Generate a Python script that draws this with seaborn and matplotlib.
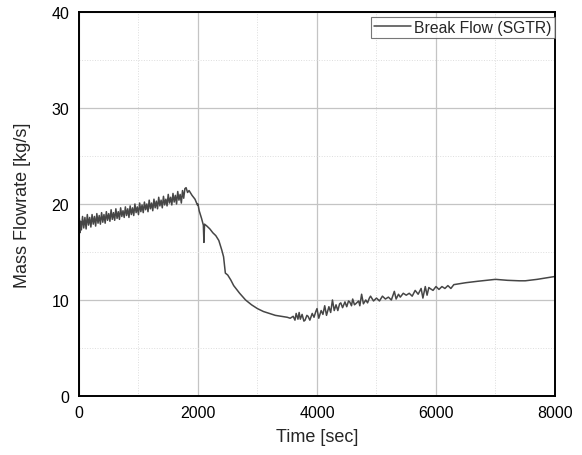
import seaborn as sns
import pandas as pd
import matplotlib.pyplot as plt
from matplotlib.ticker import MultipleLocator

# break flow trace
# start-up spike and the oscillating rise (every 20 s)
time_early = [0, 5, 15, 25] + list(range(40, 1801, 20))
flow_early = [0.0, 18.5, 17.0, 18.2,
              17.3, 18.7, 17.5, 18.6, 17.4, 18.9, 17.8, 18.6, 17.6, 18.9, 17.9, 18.7,
              17.7, 19.0, 18.0, 18.8, 17.9, 19.1, 18.1, 18.9, 18.0, 19.2, 18.3, 19.0,
              18.2, 19.4, 18.4, 19.1, 18.3, 19.5, 18.5, 19.2, 18.4, 19.6, 18.7, 19.3,
              18.6, 19.7, 18.8, 19.5, 18.6, 19.8, 18.9, 19.6, 18.8, 20.0, 19.1, 19.7,
              18.9, 20.1, 19.2, 19.9, 19.1, 20.2, 19.4, 20.0, 19.2, 20.4, 19.5, 20.1,
              19.3, 20.5, 19.6, 20.3, 19.5, 20.7, 19.8, 20.4, 19.6, 20.8, 19.9, 20.5,
              19.8, 21.0, 20.1, 20.7, 19.9, 21.1, 20.2, 20.9, 20.0, 21.3, 20.4, 21.0,
              20.1, 21.4, 20.6, 21.6, 21.7]
# blowdown and slow recovery
time_late = [1825, 1850, 1900, 1950, 1990, 2000, 2020, 2060, 2090, 2100, 2110, 2150, 2200,
             2250, 2300, 2350, 2400, 2430, 2460, 2500, 2550, 2600, 2700, 2800, 2900, 3000,
             3100, 3200, 3300, 3400, 3500, 3550, 3600, 3630, 3650, 3680, 3700, 3720, 3750,
             3780, 3800, 3830, 3850, 3880, 3920, 3950, 3980, 4000, 4030, 4070, 4100, 4130,
             4160, 4200, 4230, 4260, 4290, 4320, 4350, 4380, 4400, 4430, 4470, 4500, 4530,
             4550, 4580, 4600, 4630, 4650, 4700, 4720, 4750, 4780, 4820, 4850, 4880, 4900,
             4950, 5000, 5050, 5100, 5150, 5200, 5250, 5300, 5330, 5370, 5400, 5450, 5500,
             5550, 5600, 5650, 5700, 5750, 5780, 5820, 5850, 5880, 5900, 5950, 6000, 6050,
             6100, 6150, 6200, 6250, 6300, 6400, 6500, 6700, 7000, 7200, 7400, 7500, 7700,
             8000]
flow_late = [21.2, 21.4, 20.9, 20.5, 19.9, 20.0, 19.3, 18.5, 17.8, 16.0, 17.9, 17.7, 17.4,
             17.0, 16.7, 16.2, 15.2, 14.5, 12.8, 12.6, 12.1, 11.5, 10.7, 10.0, 9.5, 9.1,
             8.8, 8.6, 8.4, 8.3, 8.2, 8.1, 8.3, 7.9, 8.6, 8.0, 8.7, 8.0, 8.5, 7.8, 7.9,
             8.4, 8.3, 7.9, 8.6, 8.2, 8.8, 9.1, 8.1, 8.9, 8.5, 9.4, 8.4, 9.3, 8.7, 10.0,
             8.9, 9.5, 8.9, 9.6, 9.7, 9.2, 9.8, 9.3, 9.9, 9.8, 9.4, 10.1, 9.5, 9.6, 9.9,
             9.4, 10.6, 9.6, 10.0, 9.7, 10.2, 10.4, 9.9, 10.2, 9.9, 10.4, 10.1, 10.3,
             10.0, 10.9, 10.1, 10.6, 10.3, 10.7, 10.5, 10.7, 10.4, 11.0, 10.6, 11.2, 10.2,
             11.4, 10.5, 11.3, 11.2, 11.0, 11.4, 11.1, 11.4, 11.2, 11.5, 11.2, 11.6, 11.7,
             11.8, 11.95, 12.15, 12.05, 12.0, 12.0, 12.15, 12.45]
series_label = "Break Flow (SGTR)"

df = pd.DataFrame({"Time [sec]": time_early + time_late,
                   "Mass Flowrate [kg/s]": flow_early + flow_late})

sns.set_style("white")
plt.rcParams['font.family'] = ['Liberation Sans', 'DejaVu Sans']

fig = plt.figure(figsize=(5.82, 4.56), dpi=100)
ax = fig.add_axes([0.1357, 0.1294, 0.8179, 0.8421])

sns.lineplot(data=df, x="Time [sec]", y="Mass Flowrate [kg/s]", ax=ax,
             color="#464646", linewidth=1.1, label=series_label, estimator=None, sort=False)

ax.set_xlim(0, 8000)
ax.set_ylim(0, 40)
ax.xaxis.set_major_locator(MultipleLocator(2000))
ax.xaxis.set_minor_locator(MultipleLocator(1000))
ax.yaxis.set_major_locator(MultipleLocator(10))
ax.yaxis.set_minor_locator(MultipleLocator(5))
ax.grid(which="major", color="#c4c4c4", linewidth=0.9, linestyle="-")
ax.grid(which="minor", color="#dddddd", linewidth=0.7, linestyle=":")
ax.tick_params(which="major", direction="in", length=5, width=1.2, labelsize=11.5,
               colors="black", top=False, right=False)
ax.tick_params(axis="y", which="major", pad=7)
ax.tick_params(axis="x", which="major", pad=6.5)
ax.tick_params(which="minor", direction="in", length=3, width=1.0, top=False, right=False)
for s in ax.spines.values():
    s.set_visible(True)
    s.set_color("black")
    s.set_linewidth(1.4)
ax.set_xlabel("Time [sec]", fontsize=13, labelpad=6)
ax.set_ylabel("Mass Flowrate [kg/s]", fontsize=13, labelpad=15)

leg = ax.legend(loc="upper right", bbox_to_anchor=(1.0, 0.988), borderaxespad=0,
                fontsize=11.3, frameon=True, fancybox=False, handlelength=2.4,
                borderpad=0.2, handletextpad=0.2)
leg.get_frame().set_edgecolor("#555555")
leg.get_frame().set_linewidth(0.8)

fig.savefig("out.png", dpi=100)
